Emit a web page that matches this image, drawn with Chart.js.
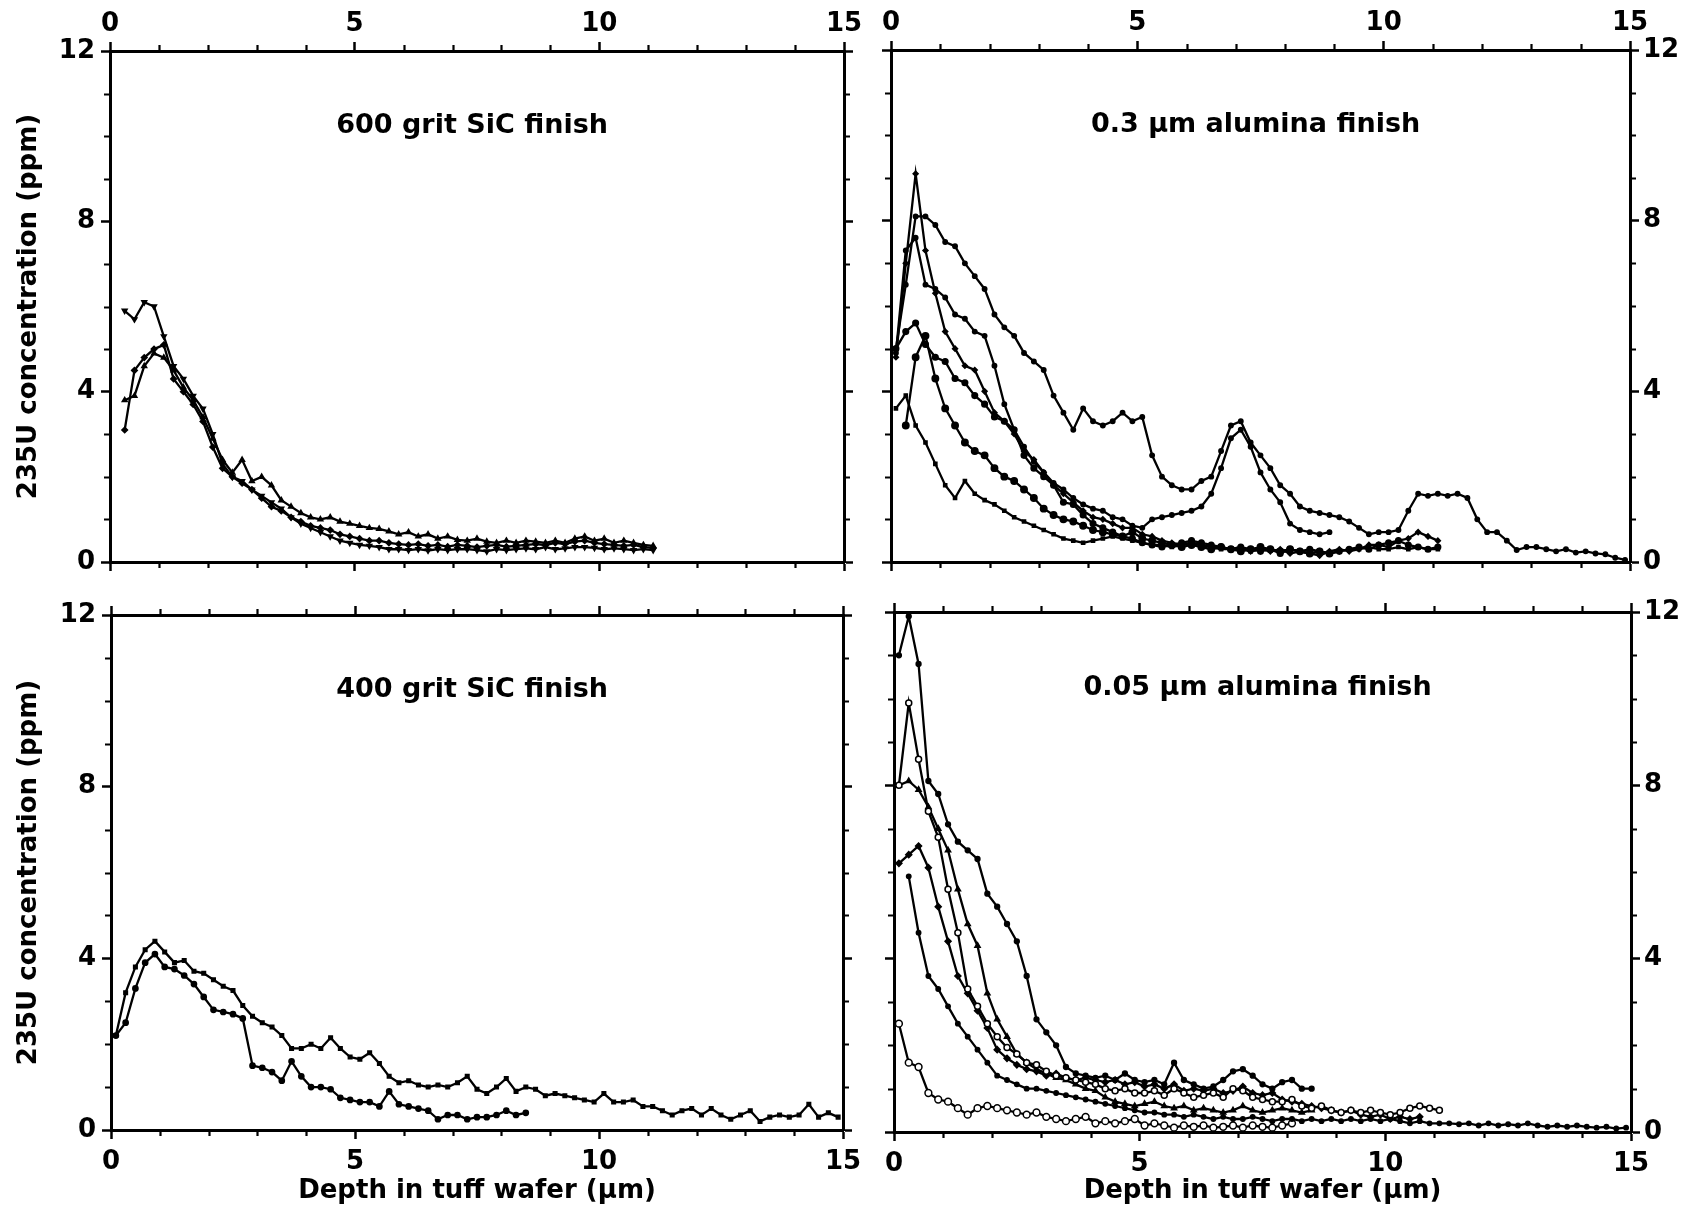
<!DOCTYPE html>
<html>
<head>
<meta charset="utf-8">
<script src="https://cdn.jsdelivr.net/npm/chart.js@4.4.1/dist/chart.umd.min.js"></script>
<style>
  body { margin: 0; background: #fff; width: 1683px; height: 1213px; position: relative; overflow: hidden; }
  canvas { position: absolute; }
</style>
</head>
<body>
<canvas id="tl" width="870" height="590" style="left:0;top:0"></canvas>
<canvas id="tr" width="813" height="590" style="left:870px;top:0"></canvas>
<canvas id="bl" width="870" height="623" style="left:0;top:590px"></canvas>
<canvas id="br" width="813" height="623" style="left:870px;top:590px"></canvas>
<script>
'use strict';

// depth grid (um) shared by every profile
const DEPTH = [
  0.1, 0.3, 0.5, 0.7, 0.9, 1.1, 1.3, 1.5, 1.7, 1.9,
  2.1, 2.3, 2.5, 2.7, 2.9, 3.1, 3.3, 3.5, 3.7, 3.9,
  4.1, 4.3, 4.5, 4.7, 4.9, 5.1, 5.3, 5.5, 5.7, 5.9,
  6.1, 6.3, 6.5, 6.7, 6.9, 7.1, 7.3, 7.5, 7.7, 7.9,
  8.1, 8.3, 8.5, 8.7, 8.9, 9.1, 9.3, 9.5, 9.7, 9.9,
  10.1, 10.3, 10.5, 10.7, 10.9, 11.1, 11.3, 11.5, 11.7, 11.9,
  12.1, 12.3, 12.5, 12.7, 12.9, 13.1, 13.3, 13.5, 13.7, 13.9,
  14.1, 14.3, 14.5, 14.7, 14.9,
];
const X_TICKS = { max: 15, step: 5 };
const Y_TICKS = { max: 12, step: 4 };

// 600 grit SiC finish
const SIC600_A = [
  null, 5.9, 5.7, 6.1, 6.0, 5.3, 4.6, 4.3, 3.9, 3.6,
  3.0, 2.3, 2.0, 1.9, 1.7, 1.55, 1.4, 1.25, 1.05, 0.9,
  0.8, 0.7, 0.6, 0.5, 0.45, 0.4, 0.38, 0.35, 0.3, 0.3,
  0.28, 0.3, 0.27, 0.3, 0.28, 0.3, 0.3, 0.28, 0.25, 0.3,
  0.28, 0.3, 0.32, 0.3, 0.35, 0.3, 0.32, 0.35, 0.35, 0.33,
  0.3, 0.32, 0.3, 0.28, 0.3, 0.28,
];
const SIC600_B = [
  null, 3.1, 4.5, 4.8, 5.0, 5.1, 4.3, 4.0, 3.7, 3.3,
  2.7, 2.2, 2.0, 1.85, 1.7, 1.5, 1.3, 1.2, 1.05, 0.95,
  0.85, 0.8, 0.75, 0.65, 0.6, 0.55, 0.5, 0.5, 0.45, 0.42,
  0.4, 0.42, 0.38, 0.4, 0.36, 0.4, 0.38, 0.35, 0.38, 0.4,
  0.36, 0.38, 0.4, 0.42, 0.4, 0.45, 0.42, 0.48, 0.5, 0.45,
  0.42, 0.4, 0.38, 0.4, 0.35, 0.33,
];
const SIC600_C = [
  null, 3.8, 3.9, 4.6, 4.9, 4.8, 4.5, 4.1, 3.8, 3.4,
  2.9, 2.4, 2.1, 2.4, 1.9, 2.0, 1.8, 1.45, 1.3, 1.15,
  1.05, 1.0, 1.05, 0.95, 0.9, 0.85, 0.8, 0.78, 0.72, 0.65,
  0.7, 0.6, 0.65, 0.55, 0.6, 0.52, 0.5, 0.55, 0.48, 0.45,
  0.5, 0.45, 0.5, 0.48, 0.45, 0.5, 0.45, 0.55, 0.6, 0.5,
  0.55, 0.45, 0.5, 0.45, 0.4, 0.38,
];

// 0.3 um alumina finish
const AL03_A = [
  5.0, 6.5, 8.1, 8.1, 7.9, 7.5, 7.4, 7.0, 6.7, 6.4,
  5.8, 5.5, 5.3, 4.9, 4.7, 4.5, 3.9, 3.5, 3.1, 3.6,
  3.3, 3.2, 3.3, 3.5, 3.3, 3.4, 2.5, 2.0, 1.8, 1.7,
  1.7, 1.9, 2.0, 2.6, 3.2, 3.3, 2.8, 2.5, 2.2, 1.8,
  1.6, 1.3, 1.2, 1.15, 1.1, 1.05, 0.95, 0.8, 0.65, 0.7,
  0.7, 0.75, 1.2, 1.6, 1.55, 1.6, 1.55, 1.6, 1.5, 1.0,
  0.7, 0.7, 0.5, 0.28, 0.35, 0.35, 0.3, 0.25, 0.3, 0.22,
  0.25, 0.2, 0.18, 0.1, 0.05,
];
const AL03_B = [
  4.9, 7.3, 7.6, 6.5, 6.4, 6.2, 5.8, 5.7, 5.4, 5.3,
  4.6, 3.7, 3.1, 2.7, 2.35, 2.1, 1.85, 1.7, 1.5, 1.35,
  1.25, 1.2, 1.05, 1.0, 0.85, 0.8, 1.0, 1.05, 1.1, 1.15,
  1.2, 1.3, 1.6, 2.2, 2.9, 3.1, 2.7, 2.1, 1.7, 1.4,
  0.9, 0.75, 0.7, 0.65, 0.7,
];
const AL03_C = [
  4.8, 7.0, 9.1, 7.3, 6.3, 5.4, 5.0, 4.6, 4.5, 4.0,
  3.5, 3.3, 3.0, 2.6, 2.4, 2.1, 1.8, 1.6, 1.4, 1.2,
  1.05, 1.0, 0.9, 0.8, 0.8, 0.65, 0.6, 0.5, 0.45, 0.4,
  0.45, 0.4, 0.35, 0.35, 0.3, 0.3, 0.25, 0.3, 0.25, 0.3,
  0.2, 0.25, 0.2, 0.15, 0.25, 0.3, 0.25, 0.3, 0.4, 0.4,
  0.35, 0.5, 0.55, 0.7, 0.6, 0.5,
];
const AL03_D = [
  5.0, 5.4, 5.6, 5.1, 4.8, 4.7, 4.3, 4.2, 3.9, 3.7,
  3.4, 3.3, 3.1, 2.5, 2.2, 2.0, 1.8, 1.4, 1.35, 1.1,
  0.9, 0.8, 0.7, 0.6, 0.55, 0.45, 0.4, 0.35, 0.4, 0.45,
  0.5, 0.45, 0.4, 0.35, 0.3, 0.35, 0.3, 0.25, 0.3, 0.2,
  0.3, 0.25, 0.3, 0.25, 0.2, 0.25, 0.3, 0.35, 0.3, 0.4,
  0.45, 0.5, 0.4, 0.35, 0.3, 0.35,
];
const AL03_E = [
  null, 3.2, 4.8, 5.3, 4.3, 3.6, 3.2, 2.8, 2.6, 2.5,
  2.2, 2.0, 1.9, 1.7, 1.5, 1.25, 1.1, 1.0, 0.95, 0.85,
  0.75, 0.7, 0.65, 0.6, 0.7, 0.55, 0.5, 0.45, 0.4, 0.35,
  0.4, 0.35, 0.3, 0.35, 0.3, 0.25, 0.3, 0.35, 0.3, 0.25,
  0.3, 0.25, 0.2, 0.25, 0.2,
];
const AL03_F = [
  3.6, 3.9, 3.2, 2.8, 2.3, 1.8, 1.5, 1.9, 1.6, 1.45,
  1.35, 1.2, 1.05, 0.95, 0.85, 0.75, 0.65, 0.55, 0.5, 0.45,
  0.5, 0.55, 0.6, 0.55, 0.5, 0.45, 0.4, 0.4, 0.35, 0.4,
  0.45, 0.4, 0.35, 0.3, 0.3, 0.35, 0.25, 0.3, 0.3, 0.25,
  0.3, 0.25, 0.2, 0.25, 0.2, 0.25, 0.3, 0.3, 0.35, 0.3,
  0.3, 0.35, 0.3, 0.35, 0.3, 0.3,
];

// 400 grit SiC finish
const SIC400_A = [
  2.2, 3.2, 3.8, 4.2, 4.4, 4.15, 3.9, 3.95, 3.7, 3.65,
  3.5, 3.35, 3.25, 2.9, 2.65, 2.5, 2.4, 2.2, 1.9, 1.9,
  2.0, 1.9, 2.15, 1.9, 1.7, 1.65, 1.8, 1.55, 1.25, 1.1,
  1.15, 1.05, 1.0, 1.05, 1.0, 1.1, 1.25, 0.95, 0.85, 1.0,
  1.2, 0.9, 1.0, 0.95, 0.8, 0.85, 0.8, 0.75, 0.7, 0.65,
  0.85, 0.65, 0.65, 0.7, 0.55, 0.55, 0.45, 0.35, 0.45, 0.5,
  0.35, 0.5, 0.35, 0.25, 0.35, 0.45, 0.2, 0.3, 0.35, 0.3,
  0.35, 0.6, 0.3, 0.4, 0.3,
];
const SIC400_B = [
  2.2, 2.5, 3.3, 3.9, 4.1, 3.8, 3.75, 3.6, 3.4, 3.1,
  2.8, 2.75, 2.7, 2.6, 1.5, 1.45, 1.35, 1.15, 1.6, 1.25,
  1.0, 1.0, 0.95, 0.75, 0.7, 0.65, 0.65, 0.55, 0.9, 0.6,
  0.55, 0.5, 0.45, 0.25, 0.35, 0.35, 0.25, 0.3, 0.3, 0.35,
  0.45, 0.35, 0.4,
];

// 0.05 um alumina finish
const AL005_A = [
  11.0, 11.9, 10.8, 8.1, 7.8, 7.1, 6.7, 6.5, 6.3, 5.5,
  5.2, 4.8, 4.4, 3.6, 2.6, 2.3, 2.0, 1.5, 1.35, 1.3,
  1.25, 1.3, 1.2, 1.35, 1.2, 1.15, 1.2, 1.1, 1.6, 1.2,
  1.1, 1.0, 1.05, 1.2, 1.4, 1.45, 1.3, 1.1, 1.0, 1.15,
  1.2, 1.0, 1.0,
];
const AL005_B = [
  8.0, 9.9, 8.6, 7.4, 6.8, 5.6, 4.6, 3.3, 2.9, 2.5,
  2.2, 1.95, 1.8, 1.6, 1.55, 1.4, 1.3, 1.25, 1.2, 1.15,
  1.1, 1.0, 0.95, 1.0, 0.9, 0.9, 0.95, 0.85, 1.0, 0.9,
  0.8, 0.85, 0.9, 0.8, 1.0, 0.95, 0.8, 0.75, 0.7, 0.7,
  0.75, 0.6, 0.55, 0.6, 0.5, 0.45, 0.5, 0.45, 0.5, 0.45,
  0.4, 0.45, 0.55, 0.6, 0.55, 0.5,
];
const AL005_C = [
  8.0, 8.1, 7.9, 7.5, 7.0, 6.5, 5.6, 4.8, 4.3, 3.2,
  2.6, 2.2, 1.8, 1.6, 1.45, 1.35, 1.25, 1.2, 1.1, 1.0,
  0.95, 0.8, 0.7, 0.65, 0.6, 0.65, 0.7, 0.6, 0.55, 0.6,
  0.5, 0.55, 0.5, 0.45, 0.5, 0.6, 0.5, 0.45, 0.5, 0.55,
  0.5, 0.45, 0.5,
];
const AL005_D = [
  6.2, 6.4, 6.6, 6.1, 5.2, 4.4, 3.6, 3.2, 2.8, 2.4,
  1.9, 1.7, 1.55, 1.45, 1.4, 1.3, 1.35, 1.25, 1.2, 1.25,
  1.2, 1.15, 1.2, 1.1, 1.15, 1.05, 1.1, 1.0, 1.1, 0.95,
  1.0, 0.95, 1.0, 0.9, 0.95, 1.05, 0.9, 0.85, 0.9, 0.75,
  0.7, 0.65, 0.6, 0.55, 0.5, 0.45, 0.5, 0.4, 0.35, 0.4,
  0.3, 0.35, 0.3, 0.35,
];
const AL005_E = [
  null, 5.9, 4.6, 3.6, 3.3, 2.9, 2.5, 2.2, 1.9, 1.6,
  1.3, 1.2, 1.1, 1.0, 1.0, 0.95, 0.9, 0.85, 0.8, 0.75,
  0.7, 0.65, 0.6, 0.55, 0.5, 0.45, 0.45, 0.4, 0.4, 0.35,
  0.4, 0.35, 0.3, 0.35, 0.3, 0.3, 0.35, 0.3, 0.25, 0.3,
  0.3, 0.25, 0.3, 0.25, 0.3, 0.25, 0.3, 0.25, 0.3, 0.25,
  0.3, 0.25, 0.2, 0.25, 0.2, 0.2, 0.2, 0.18, 0.2, 0.15,
  0.2, 0.15, 0.18, 0.15, 0.2, 0.15, 0.12, 0.15, 0.12, 0.15,
  0.12, 0.1, 0.12, 0.08, 0.1,
];
const AL005_F = [
  2.5, 1.6, 1.5, 0.9, 0.75, 0.7, 0.55, 0.4, 0.55, 0.6,
  0.55, 0.5, 0.45, 0.4, 0.45, 0.35, 0.3, 0.25, 0.3, 0.35,
  0.2, 0.25, 0.2, 0.25, 0.3, 0.15, 0.2, 0.15, 0.1, 0.15,
  0.12, 0.15, 0.1, 0.12, 0.15, 0.1, 0.15, 0.12, 0.1, 0.15,
  0.2,
];

const FONT = 'DejaVu Sans';
const Y_TITLE = '235U concentration (ppm)';
const X_TITLE = 'Depth in tuff wafer (\u00b5m)';

function profile(vals, shape, opts = {}) {
  const pts = [];
  vals.forEach((v, i) => { if (v !== null) pts.push({ x: DEPTH[i], y: v }); });
  return {
    data: pts,
    borderColor: '#000',
    borderWidth: 2.3,
    tension: 0,
    pointStyle: shape,
    pointRadius: opts.r || 2.8,
    pointRotation: opts.rot || 0,
    pointBackgroundColor: opts.open ? '#fff' : '#000',
    pointBorderColor: '#000',
    pointBorderWidth: 1.5,
  };
}

// minor tick marks at every integer, outward on all four sides
const minorTicks = {
  id: 'minorTicks',
  afterDraw(chart) {
    const { ctx, chartArea: a } = chart;
    ctx.save();
    ctx.strokeStyle = '#000';
    ctx.lineWidth = 2.2;
    ctx.beginPath();
    for (const s of Object.values(chart.scales)) {
      const step = s.options.ticks.stepSize;
      for (let v = 1; v < s.max; v++) {
        if (v % step === 0) continue;
        const p = Math.round(s.getPixelForValue(v)) + 0.5;
        if (s.position === 'top')    { ctx.moveTo(p, a.top);    ctx.lineTo(p, a.top - 6); }
        if (s.position === 'bottom') { ctx.moveTo(p, a.bottom); ctx.lineTo(p, a.bottom + 6); }
        if (s.position === 'left')   { ctx.moveTo(a.left, p);   ctx.lineTo(a.left - 6, p); }
        if (s.position === 'right')  { ctx.moveTo(a.right, p);  ctx.lineTo(a.right + 6, p); }
      }
    }
    ctx.stroke();
    ctx.restore();
  },
};

const panelTitle = {
  id: 'panelTitle',
  afterDatasetsDraw(chart, args, o) {
    const { ctx, scales: { x, y } } = chart;
    ctx.save();
    ctx.font = `bold 27px "${FONT}"`;
    ctx.fillStyle = '#000';
    ctx.textAlign = 'center';
    ctx.textBaseline = 'middle';
    ctx.fillText(o.text, x.getPixelForValue(7.4), y.getPixelForValue(10.25));
    ctx.restore();
  },
};

const OPPOSITE = { top: 'bottom', bottom: 'top', left: 'right', right: 'left' };

function axis(pos, size, range, labelled, pad, title) {
  return {
    type: 'linear',
    position: pos,
    min: 0,
    max: range.max,
    ticks: {
      display: labelled,
      stepSize: range.step,
      color: '#000',
      padding: pad,
      maxRotation: 0,
      autoSkip: false,
      font: { family: FONT, size: 26, weight: 'bold' },
    },
    grid: { drawOnChartArea: false, drawTicks: true, tickLength: 9, tickWidth: 2.5, tickColor: '#000' },
    border: { display: true, color: '#000', width: 3 },
    title: title
      ? { display: true, text: title.text, color: '#000', padding: title.padding,
          font: { family: FONT, size: 26, weight: 'bold' } }
      : { display: false },
    afterFit: s => { if (s.isHorizontal()) s.height = size; else s.width = size; },
  };
}

function panel(id, cfg) {
  const xo = OPPOSITE[cfg.xSide], yo = OPPOSITE[cfg.ySide];
  const xTitle = cfg.xTitle ? { text: X_TITLE, padding: { top: 0, bottom: 6 } } : null;
  const yTitle = cfg.yTitle ? { text: Y_TITLE, padding: { top: 14, bottom: 0 } } : null;
  new Chart(document.getElementById(id), {
    type: 'line',
    data: { datasets: cfg.series },
    options: {
      responsive: false,
      animation: false,
      devicePixelRatio: 1,
      events: [],
      layout: { padding: 0 },
      plugins: { legend: { display: false }, tooltip: { enabled: false }, panelTitle: { text: cfg.title } },
      scales: {
        x:  axis(cfg.xSide, cfg.box[cfg.xSide], X_TICKS, true, cfg.xPad, xTitle),
        x2: axis(xo, cfg.box[xo], X_TICKS, false, 0, null),
        y:  axis(cfg.ySide, cfg.box[cfg.ySide], Y_TICKS, true, cfg.yPad, yTitle),
        y2: axis(yo, cfg.box[yo], Y_TICKS, false, 0, null),
      },
    },
    plugins: [minorTicks, panelTitle],
  });
}

panel('tl', {
  title: '600 grit SiC finish',
  xSide: 'top', ySide: 'left', xPad: 2, yPad: 6, yTitle: true,
  box: { left: 110, right: 26, top: 51, bottom: 28 },
  series: [
    profile(SIC600_A, 'triangle', { rot: 180 }),
    profile(SIC600_B, 'rectRot'),
    profile(SIC600_C, 'triangle'),
  ],
});

panel('tr', {
  title: '0.3 \u00b5m alumina finish',
  xSide: 'top', ySide: 'right', xPad: 2, yPad: 4,
  box: { left: 21, right: 53, top: 50, bottom: 28 },
  series: [
    profile(AL03_A, 'circle', { r: 2.2 }),
    profile(AL03_B, 'circle', { r: 2.2 }),
    profile(AL03_C, 'rectRot', { r: 2.5 }),
    profile(AL03_D, 'circle', { r: 2.8 }),
    profile(AL03_E, 'circle', { r: 3.2 }),
    profile(AL03_F, 'rect', { r: 2.2 }),
  ],
});

panel('bl', {
  title: '400 grit SiC finish',
  xSide: 'bottom', ySide: 'left', xPad: 8, yPad: 6, xTitle: true, yTitle: true,
  box: { left: 111, right: 27, top: 25, bottom: 83 },
  series: [
    profile(SIC400_A, 'rect', { r: 2.5 }),
    profile(SIC400_B, 'circle', { r: 2.6 }),
  ],
});

panel('br', {
  title: '0.05 \u00b5m alumina finish',
  xSide: 'bottom', ySide: 'right', xPad: 8, yPad: 4, xTitle: true,
  box: { left: 24, right: 52, top: 22, bottom: 81 },
  series: [
    profile(AL005_A, 'circle', { r: 2.4 }),
    profile(AL005_B, 'circle', { r: 3, open: true }),
    profile(AL005_C, 'triangle', { r: 3 }),
    profile(AL005_D, 'rectRot', { r: 3 }),
    profile(AL005_E, 'circle', { r: 2.2 }),
    profile(AL005_F, 'circle', { r: 3.4, open: true }),
  ],
});
</script>
</body>
</html>
